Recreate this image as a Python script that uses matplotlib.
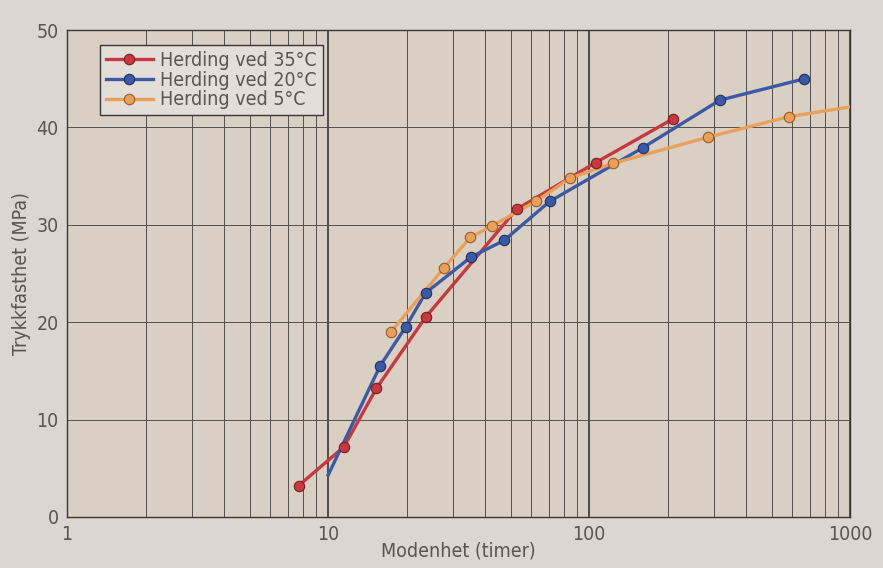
import matplotlib.pyplot as plt
from matplotlib.ticker import FixedLocator, NullFormatter

# maturity (hours) vs compressive strength (MPa)
red_x = [7.7, 11.5, 15.3, 23.6, 52.7, 106, 210]
red_y = [3.2, 7.2, 13.2, 20.5, 31.6, 36.4, 40.9]

blue_x = [10, 15.8, 19.8, 23.6, 35.3, 47.2, 70.5, 160, 316, 667]
blue_y = [4.3, 15.5, 19.5, 23.0, 26.7, 28.4, 32.4, 37.9, 42.8, 45.0]

orange_x = [17.4, 27.8, 35.0, 42.4, 62.3, 84.5, 123, 285, 580, 990]
orange_y = [19.0, 25.6, 28.7, 29.9, 32.4, 34.8, 36.3, 39.0, 41.1, 42.1]

labels = ["Herding ved 35°C", "Herding ved 20°C", "Herding ved 5°C"]
x_ticks = [1, 10, 100, 1000]
y_ticks = [0, 10, 20, 30, 40, 50]

plt.rcParams["font.family"] = "DejaVu Sans"
plt.rcParams["font.stretch"] = "condensed"

text_color = "#5a5552"
fig = plt.figure(figsize=(8.83, 5.68), dpi=100, facecolor="#dcd5d2")
ax = fig.add_axes([0.076, 0.090, 0.887, 0.857])
ax.set_facecolor("#d9d0c3")

ax.set_xscale("log")
ax.set_xlim(1, 1000)
ax.set_ylim(0, 50)

ax.xaxis.set_major_locator(FixedLocator(x_ticks))
ax.set_xticklabels([str(t) for t in x_ticks])
minor = [m * 10 ** d for d in range(3) for m in range(2, 10)]
ax.xaxis.set_minor_locator(FixedLocator(minor))
ax.xaxis.set_minor_formatter(NullFormatter())
ax.set_yticks(y_ticks)

ax.grid(True, which="major", axis="x", color="#2a2726", lw=1.1)
ax.grid(True, which="minor", axis="x", color="#55504c", lw=0.7)
ax.grid(True, which="major", axis="y", color="#55504c", lw=0.7)
ax.tick_params(which="both", length=0, labelsize=14, colors=text_color, pad=6)
for s in ax.spines.values():
    s.set_color("#3a3634")
    s.set_linewidth(1.0)

series = [
    (red_x, red_y, "#c8383f", "#7a1c22"),
    (blue_x, blue_y, "#3b5aa6", "#1e2f63"),
    (orange_x, orange_y, "#e9a05a", "#9a5a22"),
]
for (xs, ys, col, edge), lab in zip(series, labels):
    ax.plot(xs, ys, color=col, lw=2.4, label=lab, zorder=3)
    # blue starts and orange ends without a marker
    mx, my = xs, ys
    if col == "#3b5aa6":
        mx, my = xs[1:], ys[1:]
    if col == "#e9a05a":
        mx, my = xs[:-1], ys[:-1]
    ax.plot(mx, my, "o", color=col, ms=7.5, mec=edge, mew=0.8, zorder=4)

handles = [
    plt.Line2D([], [], color=c, lw=2.4, marker="o", ms=7.5, mec=e, mew=0.8)
    for _, _, c, e in series
]
leg = ax.legend(handles, labels, loc="upper left", bbox_to_anchor=(0.042, 0.97),
                borderaxespad=0, frameon=True, fancybox=False, fontsize=14,
                handlelength=2.4, labelspacing=0.05, borderpad=0.3,
                handletextpad=0.4, labelcolor=text_color)
leg.get_frame().set_facecolor("#e4ded9")
leg.get_frame().set_edgecolor("#3a3634")
leg.get_frame().set_alpha(1)

ax.set_xlabel("Modenhet (timer)", fontsize=14, color=text_color, labelpad=-2)
ax.set_ylabel("Trykkfasthet (MPa)", fontsize=14, color=text_color, labelpad=4)

fig.savefig("out.png", dpi=100, facecolor=fig.get_facecolor())
